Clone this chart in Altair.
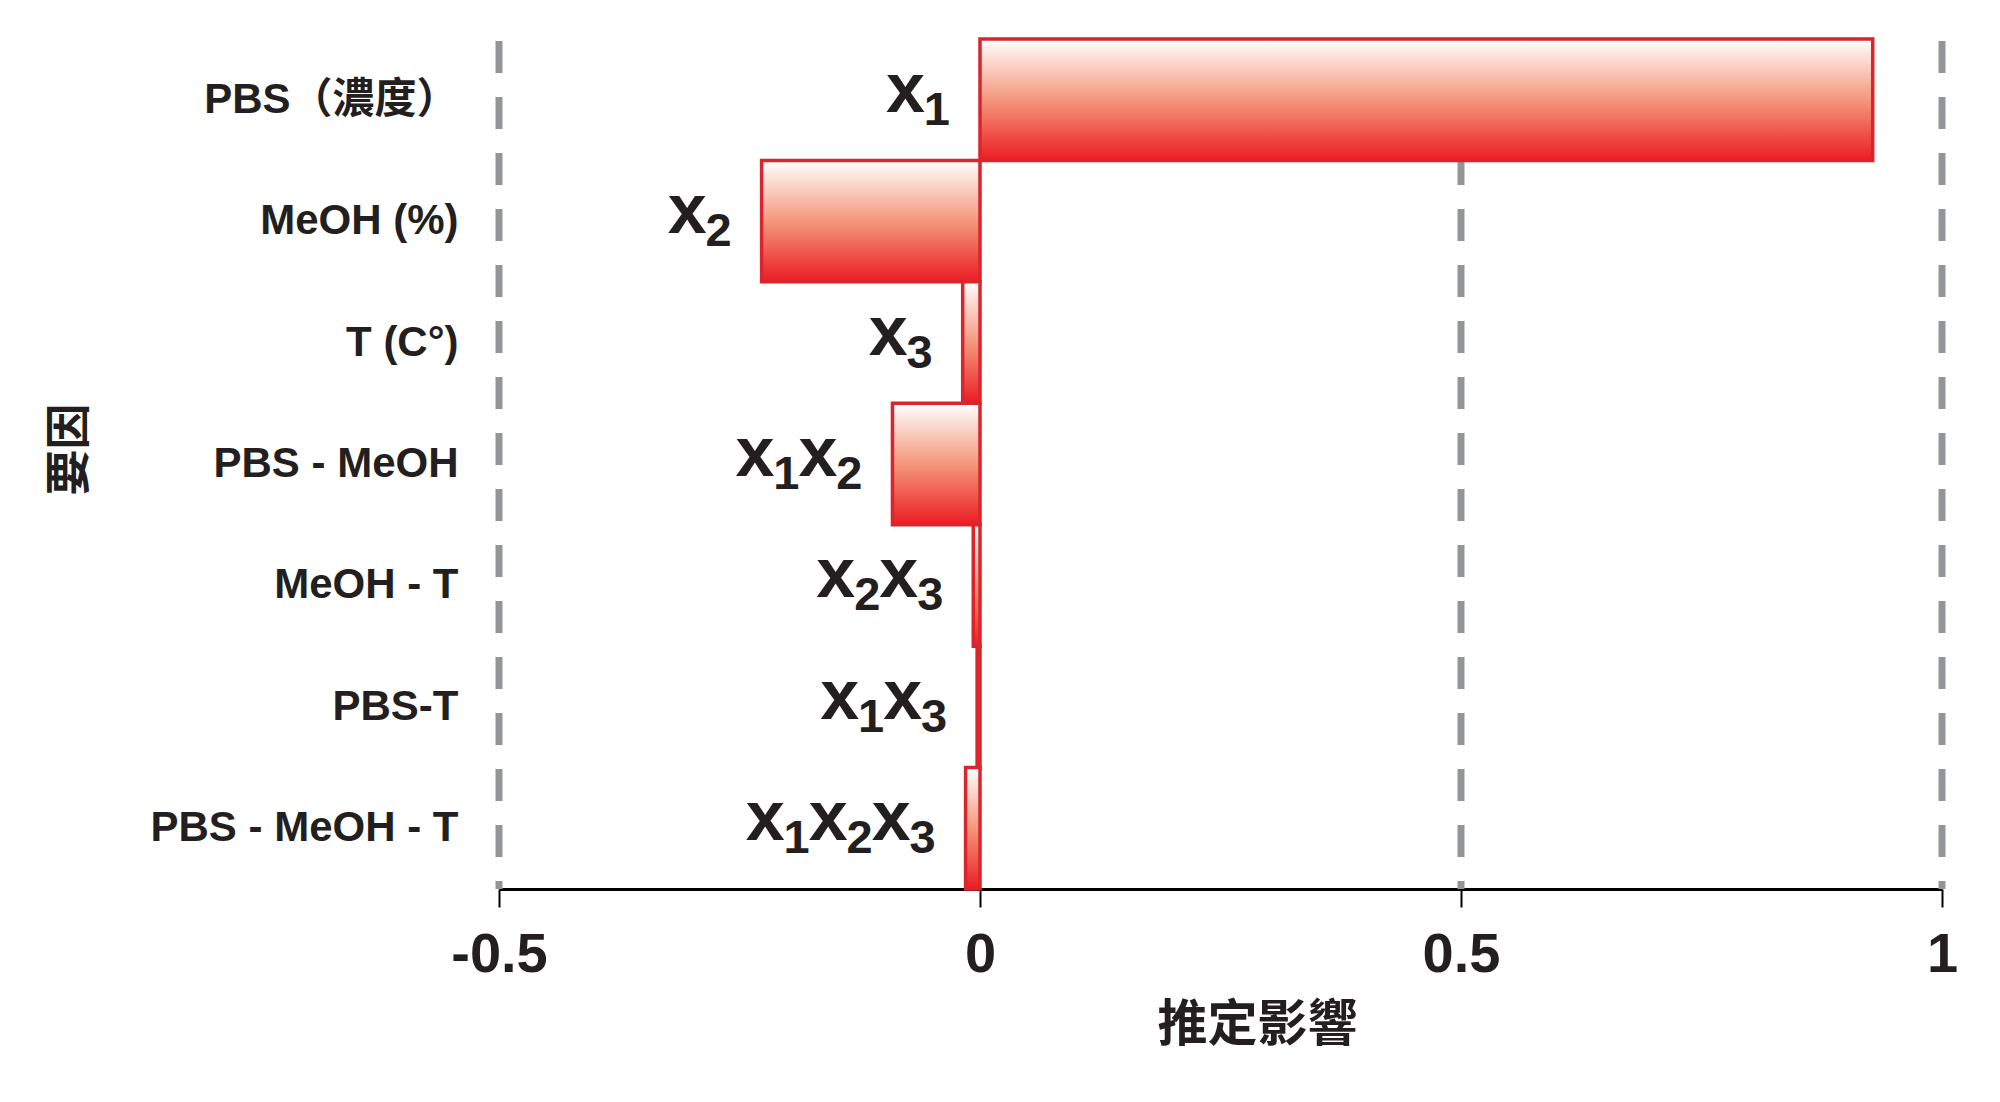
import altair as alt
import pandas as pd

# ---- data ----
factors = ["PBS（濃度）", "MeOH (%)", "T (C°)", "PBS - MeOH", "MeOH - T", "PBS-T", "PBS - MeOH - T"]
effects = [0.928, -0.227, -0.018, -0.091, -0.007, -0.003, -0.015]
# subscripts of the x terms labelling each bar (x1, x2, x3, x1x2, ...)
subscripts = ["1", "2", "3", "12", "23", "13", "123"]
grid_values = [-0.5, 0.5, 1.0]
x_ticks = [-0.5, 0, 0.5, 1]

df = pd.DataFrame({"factor": factors, "effect": effects, "sub": subscripts})
grid_df = pd.DataFrame({"g": grid_values})

FONT = "Liberation Sans, Arial, Noto Sans CJK TC, sans-serif"
TEXT = "#231f20"
W, H = 1443, 850

xscale = alt.Scale(domain=[-0.5, 1], nice=False, zero=False)
yscale = alt.Scale(paddingInner=0, paddingOuter=0)

x_axis = alt.Axis(
    values=x_ticks,
    labelExpr="toString(datum.value)",
    grid=False,
    domainColor="#000000",
    domainWidth=3,
    tickColor="#000000",
    tickWidth=2,
    tickSize=18,
    labelFont=FONT,
    labelFontSize=56,
    labelFontWeight="bold",
    labelColor=TEXT,
    labelPadding=20,
    labelFlush=False,
    title="推定影響",
    titleFont=FONT,
    titleFontSize=50,
    titleFontWeight="bold",
    titleColor=TEXT,
    titleX=758,
    titleY=136,
    titleAlign="center",
    titleBaseline="middle",
)

y_axis = alt.Axis(
    title="要因",
    titleFont=FONT,
    titleFontSize=46,
    titleFontWeight="bold",
    titleColor=TEXT,
    titleAngle=270,
    titleX=-430,
    titleY=410,
    titleAlign="center",
    titleBaseline="middle",
    labelFont=FONT,
    labelFontSize=42,
    labelFontWeight="bold",
    labelColor=TEXT,
    labelPadding=41,
    labelLimit=0,
    ticks=False,
    domain=False,
    grid=False,
)

grad = alt.Gradient(
    gradient="linear",
    stops=[
        alt.GradientStop(color="#ffffff", offset=0),
        alt.GradientStop(color="#f4977c", offset=0.5),
        alt.GradientStop(color="#ec1c24", offset=1),
    ],
    x1=0, x2=0, y1=0, y2=1,
)

grid = alt.Chart(grid_df).mark_rule(
    color="#939598", strokeWidth=7, strokeDash=[32, 24]
).encode(
    x=alt.X("g:Q", scale=xscale, axis=x_axis),
    y=alt.value(2),
    y2=alt.value(H),
)

base = alt.Chart(df).transform_calculate(
    lo="min(datum.effect, 0)", hi="max(datum.effect, 0)"
)

y_enc = alt.Y("factor:N", sort=factors, scale=yscale, axis=y_axis)
x_enc = alt.X("lo:Q", scale=xscale, axis=x_axis)

bars = base.mark_bar(fill=grad, stroke="#d9252c", strokeWidth=3.5).encode(
    y=y_enc, x=x_enc, x2="hi:Q"
)

GAP = 30      # gap between label and bar end
PAIR = 63     # width of one "x + subscript" pair
SUBW = 25     # width of one subscript digit

text_layers = []
for k in range(3):  # k-th term counted from the right
    term = base.transform_calculate(
        d=f"length(datum.sub) > {k} ? substring(datum.sub, length(datum.sub) - {k + 1}, length(datum.sub) - {k}) : ''"
    ).transform_filter("datum.d != ''")
    digit = term.mark_text(
        align="right", baseline="alphabetic",
        dx=-GAP - k * PAIR, dy=25,
        fontSize=47, fontWeight="bold", font=FONT, color=TEXT,
    ).encode(x=x_enc, y=y_enc, text="d:N")
    letter = term.transform_calculate(v="'x'").mark_text(
        align="right", baseline="alphabetic",
        dx=-GAP - k * PAIR - SUBW, dy=12,
        fontSize=70, fontWeight="bold", font=FONT, color=TEXT,
    ).encode(x=x_enc, y=y_enc, text="v:N")
    text_layers += [digit, letter]

chart = (
    alt.layer(grid, bars, *text_layers)
    .properties(
        width=W,
        height=H,
        autosize=alt.AutoSizeParams(type="none"),
        padding={"left": 491, "top": 31, "right": 50, "bottom": 180},
    )
    .configure_view(stroke=None)
)

chart.save("out.html", embed_options={"renderer": "svg", "actions": False})
